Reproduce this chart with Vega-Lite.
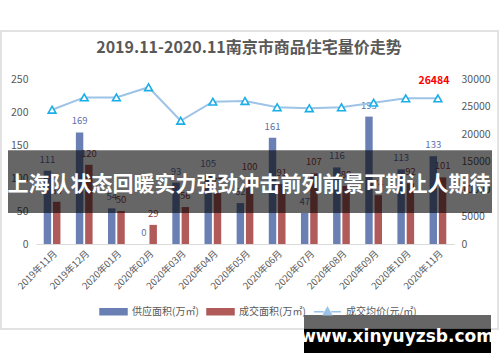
{
  "$schema": "https://vega.github.io/schema/vega-lite/v6.json",
  "width": 418,
  "height": 165,
  "autosize": "none",
  "padding": {"left": 36, "top": 79, "right": 46, "bottom": 118},
  "background": "white",
  "config": {
    "font": "Noto Sans CJK SC",
    "view": {"stroke": null},
    "axis": {"labelFont": "Noto Sans CJK SC", "labelColor": "#595959", "grid": false, "ticks": false, "domain": false, "title": null, "labelOverlap": false}
  },
  "title": {"text": "2019.11-2020.11南京市商品住宅量价走势", "font": "Noto Sans CJK SC", "fontSize": 16, "fontWeight": "bold", "color": "#595959", "offset": -26, "anchor": "middle", "dx": 4},
  "datasets": {
    "bars": [
      {"month": "2019年11月", "series": "供应面积(万㎡)", "value": 111},
      {"month": "2019年11月", "series": "成交面积(万㎡)", "value": 64},
      {"month": "2019年12月", "series": "供应面积(万㎡)", "value": 169},
      {"month": "2019年12月", "series": "成交面积(万㎡)", "value": 120},
      {"month": "2020年01月", "series": "供应面积(万㎡)", "value": 54},
      {"month": "2020年01月", "series": "成交面积(万㎡)", "value": 50},
      {"month": "2020年02月", "series": "供应面积(万㎡)", "value": 0},
      {"month": "2020年02月", "series": "成交面积(万㎡)", "value": 29},
      {"month": "2020年03月", "series": "供应面积(万㎡)", "value": 93},
      {"month": "2020年03月", "series": "成交面积(万㎡)", "value": 56},
      {"month": "2020年04月", "series": "供应面积(万㎡)", "value": 105},
      {"month": "2020年04月", "series": "成交面积(万㎡)", "value": 77},
      {"month": "2020年05月", "series": "供应面积(万㎡)", "value": 62},
      {"month": "2020年05月", "series": "成交面积(万㎡)", "value": 100},
      {"month": "2020年06月", "series": "供应面积(万㎡)", "value": 161},
      {"month": "2020年06月", "series": "成交面积(万㎡)", "value": 91},
      {"month": "2020年07月", "series": "供应面积(万㎡)", "value": 47},
      {"month": "2020年07月", "series": "成交面积(万㎡)", "value": 107},
      {"month": "2020年08月", "series": "供应面积(万㎡)", "value": 116},
      {"month": "2020年08月", "series": "成交面积(万㎡)", "value": 88},
      {"month": "2020年09月", "series": "供应面积(万㎡)", "value": 193},
      {"month": "2020年09月", "series": "成交面积(万㎡)", "value": 74},
      {"month": "2020年10月", "series": "供应面积(万㎡)", "value": 113},
      {"month": "2020年10月", "series": "成交面积(万㎡)", "value": 92},
      {"month": "2020年11月", "series": "供应面积(万㎡)", "value": 133},
      {"month": "2020年11月", "series": "成交面积(万㎡)", "value": 101}
    ],
    "price": [
      {"month": "2019年11月", "price": 24400},
      {"month": "2019年12月", "price": 26650},
      {"month": "2020年01月", "price": 26650},
      {"month": "2020年02月", "price": 28500},
      {"month": "2020年03月", "price": 22400},
      {"month": "2020年04月", "price": 25870},
      {"month": "2020年05月", "price": 26000},
      {"month": "2020年06月", "price": 24850},
      {"month": "2020年07月", "price": 24670},
      {"month": "2020年08月", "price": 24850},
      {"month": "2020年09月", "price": 25690},
      {"month": "2020年10月", "price": 26480},
      {"month": "2020年11月", "price": 26484}
    ],
    "banner": [
      {"label": "上海队状态回暖实力强劲冲击前列前景可期让人期待"}
    ],
    "watermark": [
      {"label": "www.xinyuyzsb.com"}
    ]
  },
  "layer": [
    {
      "data": {"name": "bars"},
      "encoding": {
        "x": {"field": "month", "type": "nominal", "sort": null,
              "scale": {"domain": ["2019年11月","2019年12月","2020年01月","2020年02月","2020年03月","2020年04月","2020年05月","2020年06月","2020年07月","2020年08月","2020年09月","2020年10月","2020年11月"], "paddingInner": 0.48, "paddingOuter": 0.24},
              "axis": {"labelAngle": -45, "labelFontSize": 9.5, "domain": true, "domainColor": "#d9d9d9", "labelPadding": 4}},
        "xOffset": {"field": "series", "type": "nominal", "sort": ["供应面积(万㎡)", "成交面积(万㎡)"], "scale": {"paddingInner": 0.2}},
        "y": {"field": "value", "type": "quantitative", "scale": {"domain": [0, 250]},
              "axis": {"values": [0, 50, 100, 150, 200, 250], "labelOverlap": false, "labelFlush": false, "labelFontSize": 10.5, "labelPadding": 8}}
      },
      "layer": [
        {
          "mark": {"type": "bar"},
          "encoding": {
            "color": {"field": "series", "type": "nominal",
                      "scale": {"domain": ["供应面积(万㎡)", "成交面积(万㎡)", "成交均价(元/㎡)"], "range": ["#6a7fb4", "#b05a5a", "#9dc3e6"]},
                      "legend": {
                        "orient": "none", "legendX": 63, "legendY": 218, "direction": "horizontal", "title": null,
                        "labelFont": "Noto Sans CJK SC", "labelFontSize": 10, "labelColor": "#595959",
                        "symbolSize": 729, "labelOffset": 4, "columnPadding": 5,
                        "encode": {"symbols": {"update": {
                          "shape": {"signal": "datum.value === '成交均价(元/㎡)' ? 'M-1,0H-0.28M0.28,0H1M0,-0.3L0.3,0.24L-0.3,0.24Z' : 'M-1,-0.22H1V0.22H-1Z'"},
                          "fill": {"signal": "datum.value === '供应面积(万㎡)' ? '#6a7fb4' : datum.value === '成交面积(万㎡)' ? '#b05a5a' : '#ffffff'"},
                          "stroke": {"signal": "datum.value === '成交均价(元/㎡)' ? '#4fb3e8' : 'transparent'"},
                          "strokeWidth": {"value": 1.5},
                          "opacity": {"value": 1}
                        }}}
                      }}
          }
        },
        {
          "mark": {"type": "text", "baseline": "bottom", "dy": -6, "fontSize": 9.5, "font": "Noto Sans CJK SC"},
          "encoding": {
            "text": {"field": "value", "type": "quantitative"},
            "fill": {"field": "series", "type": "nominal", "scale": {"domain": ["供应面积(万㎡)", "成交面积(万㎡)"], "range": ["#5b6fa8", "#8f3c3c"]}, "legend": null}
          }
        }
      ]
    },
    {
      "data": {"name": "price"},
      "encoding": {
        "x": {"field": "month", "type": "nominal", "sort": null},
        "y": {"field": "price", "type": "quantitative", "scale": {"domain": [0, 30000]},
              "axis": {"orient": "right", "values": [0, 5000, 10000, 15000, 20000, 25000, 30000], "labelOverlap": false, "labelFlush": false, "format": "d", "labelFontSize": 10.5, "labelPadding": 7}}
      },
      "layer": [
        {
          "mark": {"type": "line", "strokeWidth": 2},
          "encoding": {"color": {"datum": "成交均价(元/㎡)"}}
        },
        {
          "mark": {"type": "point", "shape": "triangle-up", "size": 60, "filled": true, "fill": "#ffffff", "stroke": "#1aaee8", "strokeWidth": 1.6, "opacity": 1},
          "encoding": {}
        },
        {
          "transform": [{"filter": "datum.month === '2020年11月'"}],
          "mark": {"type": "text", "color": "#ff0000", "fontWeight": "bold", "fontSize": 10.5, "dy": -17, "dx": -4, "font": "Noto Sans CJK SC"},
          "encoding": {"text": {"field": "price", "type": "quantitative", "format": "d"}}
        }
      ]
    },
    {
      "data": {"name": "banner"},
      "encoding": {
        "y": {"datum": 142, "type": "quantitative", "scale": {"domain": [0, 250]}, "axis": null}
      },
      "layer": [
        {
          "mark": {"type": "rect", "color": "#000000", "opacity": 0.6},
          "encoding": {
            "x": {"value": {"expr": "-28"}},
            "x2": {"value": {"expr": "width + 38"}},
            "y2": {"datum": 47}
          }
        },
        {
          "mark": {"type": "text", "color": "#ffffff", "fontSize": 21, "fontWeight": "bold", "font": "Noto Sans CJK SC", "baseline": "middle", "dx": 4},
          "encoding": {
            "x": {"datum": "2020年05月", "type": "nominal"},
            "y": {"datum": 90, "type": "quantitative"},
            "text": {"field": "label"}
          }
        }
      ]
    },
    {
      "data": {"name": "watermark"},
      "layer": [
        {
          "mark": {"type": "rect", "fill": null, "filled": false, "stroke": "#d9d9d9", "strokeWidth": 1.5, "opacity": 1},
          "encoding": {
            "x": {"value": {"expr": "-35"}},
            "x2": {"value": {"expr": "width + 44"}},
            "y": {"value": {"expr": "-48"}},
            "y2": {"value": {"expr": "height + 85"}}
          }
        },
        {
          "mark": {"type": "rect", "color": "#000000", "opacity": 0.6},
          "encoding": {
            "x": {"value": {"expr": "width - 150"}},
            "x2": {"value": {"expr": "width + 37"}},
            "y": {"value": {"expr": "height + 71"}},
            "y2": {"value": {"expr": "height + 85"}}
          }
        },
        {
          "mark": {"type": "rect", "color": "#000000", "opacity": 1},
          "encoding": {
            "x": {"value": {"expr": "width - 150"}},
            "x2": {"value": {"expr": "width + 37"}},
            "y": {"value": {"expr": "height + 85"}},
            "y2": {"value": {"expr": "height + 109"}}
          }
        },
        {
          "mark": {"type": "text", "color": "#ffffff", "fontSize": 17, "fontWeight": "bold", "font": "DejaVu Sans", "baseline": "middle", "align": "center"},
          "encoding": {
            "x": {"value": {"expr": "width - 57"}},
            "y": {"value": {"expr": "height + 93"}},
            "text": {"field": "label"}
          }
        }
      ]
    }
  ],
  "resolve": {"scale": {"y": "independent", "fill": "independent"}}
}
